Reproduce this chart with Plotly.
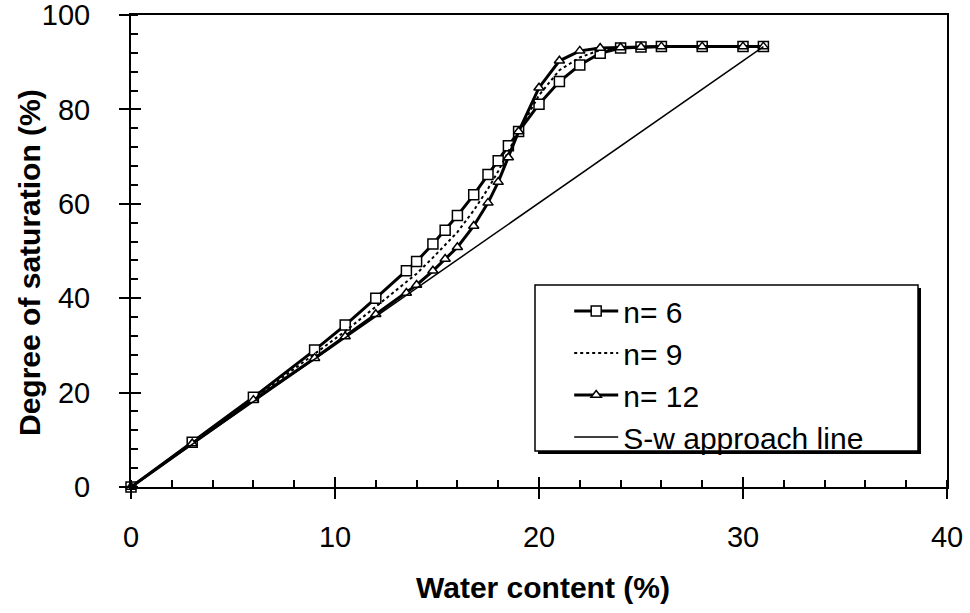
import plotly.graph_objects as go

# ---- data ----
water = [0, 3, 6, 9, 10.5, 12, 13.5, 14, 14.8, 15.4, 16, 16.8, 17.5, 18, 18.5, 19,
         20, 21, 22, 23, 24, 25, 26, 28, 30, 31]
sat_n6 = [0, 9.5, 19.0, 29.0, 34.3, 40.0, 45.8, 47.8, 51.5, 54.4, 57.5, 61.9, 66.2, 69.1,
          72.3, 75.3, 81.1, 85.9, 89.4, 91.9, 93.0, 93.2, 93.3, 93.3, 93.3, 93.3]
sat_n9 = [0, 9.3, 18.7, 28.2, 33.0, 38.2, 43.4, 45.2, 48.6, 51.3, 54.0, 58.6, 63.2, 66.9,
          71.0, 75.3, 83.0, 88.3, 91.0, 92.6, 93.1, 93.2, 93.3, 93.3, 93.3, 93.3]
sat_n12 = [0, 9.2, 18.4, 27.3, 31.9, 36.6, 41.1, 42.8, 45.8, 48.3, 50.8, 55.3, 60.2, 64.6,
           69.8, 75.3, 84.6, 90.3, 92.4, 93.0, 93.1, 93.2, 93.3, 93.3, 93.3, 93.3]
sw_x = [0, 31]
sw_y = [0, 93.3]

x_ticks = [0, 10, 20, 30, 40]
y_ticks = [0, 20, 40, 60, 80, 100]

FONT = "Liberation Sans, Arial, sans-serif"

fig = go.Figure()
fig.add_trace(go.Scatter(
    x=water, y=sat_n6, name="n= 6", mode="lines+markers", cliponaxis=False,
    line=dict(color="black", width=3),
    marker=dict(symbol="square", size=10, color="white", line=dict(color="black", width=1.5))))
fig.add_trace(go.Scatter(
    x=water, y=sat_n9, name="n= 9", mode="lines", cliponaxis=False,
    line=dict(color="black", width=2, dash="dot")))
fig.add_trace(go.Scatter(
    x=water, y=sat_n12, name="n= 12", mode="lines+markers", cliponaxis=False,
    line=dict(color="black", width=3),
    marker=dict(symbol="triangle-up", size=9, color="white", line=dict(color="black", width=1.5))))
fig.add_trace(go.Scatter(
    x=sw_x, y=sw_y, name="S-w approach line", mode="lines", cliponaxis=False,
    line=dict(color="black", width=1.5)))

# invisible trace to activate overlay axes (inside half of crossing major ticks)
fig.add_trace(go.Scatter(x=[None], y=[None], xaxis="x2", yaxis="y2",
                         showlegend=False, hoverinfo="skip"))

fig.update_layout(
    width=970, height=613,
    margin=dict(l=131, r=23, t=15, b=126, autoexpand=False),
    paper_bgcolor="white", plot_bgcolor="white",
    font=dict(family=FONT, size=29, color="black"),
    showlegend=True,
    xaxis=dict(
        range=[0, 40], tickvals=x_ticks, ticktext=[str(v) for v in x_ticks],
        showgrid=False, zeroline=False, automargin=False,
        showline=True, linecolor="black", linewidth=2, mirror=True,
        ticks="outside", ticklen=10, tickwidth=1.5, tickcolor="black",
        ticklabelstandoff=13, ticklabeloverflow="allow",
        minor=dict(ticks="inside", dtick=2, ticklen=7, tickwidth=1.5, tickcolor="black", showgrid=False),
    ),
    yaxis=dict(
        range=[0, 100], tickvals=y_ticks, ticktext=[str(v) for v in y_ticks],
        showgrid=False, zeroline=False, automargin=False,
        showline=True, linecolor="black", linewidth=2, mirror=True,
        ticks="outside", ticklen=10, tickwidth=1.5, tickcolor="black",
        ticklabelstandoff=23, ticklabeloverflow="allow",
        minor=dict(ticks="inside", dtick=4, ticklen=7, tickwidth=1.5, tickcolor="black", showgrid=False),
    ),
    xaxis2=dict(range=[0, 40], overlaying="x", anchor="y", side="bottom",
                tickvals=x_ticks, showticklabels=False, showgrid=False, zeroline=False,
                showline=False, ticks="inside", ticklen=10, tickwidth=1.5, tickcolor="black"),
    yaxis2=dict(range=[0, 100], overlaying="y", anchor="x", side="left",
                tickvals=y_ticks, showticklabels=False, showgrid=False, zeroline=False,
                showline=False, ticks="inside", ticklen=10, tickwidth=1.5, tickcolor="black"),
    legend=dict(
        x=0.537, y=0.428, xanchor="left", yanchor="top",
        bgcolor="rgba(0,0,0,0)", borderwidth=0,
        font=dict(size=30), tracegroupgap=0, itemwidth=44,
    ),
    annotations=[
        dict(text="<b>Water content (%)</b>", xref="paper", yref="paper",
             x=(543 - 131) / 816, y=(487 - 587) / 472, xanchor="center", yanchor="middle",
             showarrow=False, font=dict(size=30)),
        dict(text="<b>Degree of saturation (%)</b>", xref="paper", yref="paper",
             x=(29 - 131) / 816, y=(487 - 263) / 472, xanchor="center", yanchor="middle",
             textangle=-90, showarrow=False, font=dict(size=30)),
    ],
    shapes=[
        # legend box shadow and frame
        dict(type="rect", xref="paper", yref="paper",
             x0=(535 + 3 - 131) / 816, x1=(918 + 3 - 131) / 816,
             y0=(487 - 451 - 3) / 472, y1=(487 - 285 - 3) / 472,
             fillcolor="black", line=dict(width=0), layer="above"),
        dict(type="rect", xref="paper", yref="paper",
             x0=(535 - 131) / 816, x1=(918 - 131) / 816,
             y0=(487 - 451) / 472, y1=(487 - 285) / 472,
             fillcolor="white", line=dict(color="black", width=1.5), layer="above"),
    ],
)

fig.write_html("out.html")
